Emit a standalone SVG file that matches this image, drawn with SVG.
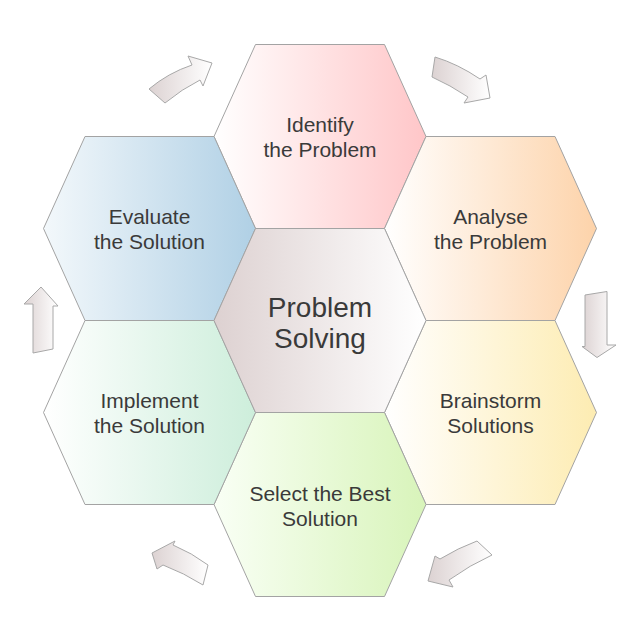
<svg xmlns="http://www.w3.org/2000/svg" width="640" height="640" viewBox="0 0 640 640">
<style>
.hex{stroke:#a3a3a3;stroke-width:1}
.arr{fill:url(#gA);stroke:#a8a8a8;stroke-width:1;stroke-linejoin:miter}
.t{font-family:"Liberation Sans",Arial,sans-serif;font-size:21px;fill:#3a3a3a;text-anchor:middle}
.tc{font-family:"Liberation Sans",Arial,sans-serif;font-size:28px;fill:#3a3a3a;text-anchor:middle}
</style>
<defs>
<linearGradient id="gA" x1="0" y1="0" x2="1" y2="0"><stop offset="0" stop-color="#dcd2d2"/><stop offset="1" stop-color="#ffffff"/></linearGradient>
<linearGradient id="gC" x1="0" y1="0" x2="1" y2="0"><stop offset="0" stop-color="#ddd1d1"/><stop offset="1" stop-color="#ffffff"/></linearGradient>
<linearGradient id="g1" x1="0" y1="0" x2="1" y2="0"><stop offset="0" stop-color="#ffffff"/><stop offset="1" stop-color="#ffc6c8"/></linearGradient>
<linearGradient id="g2" x1="0" y1="0" x2="1" y2="0"><stop offset="0" stop-color="#ffffff"/><stop offset="1" stop-color="#fdd3aa"/></linearGradient>
<linearGradient id="g3" x1="0" y1="0" x2="1" y2="0"><stop offset="0" stop-color="#ffffff"/><stop offset="1" stop-color="#fdecb2"/></linearGradient>
<linearGradient id="g4" x1="0" y1="0" x2="1" y2="0"><stop offset="0" stop-color="#f9fff5"/><stop offset="1" stop-color="#d8f4ba"/></linearGradient>
<linearGradient id="g5" x1="0" y1="0" x2="1" y2="0"><stop offset="0" stop-color="#ffffff"/><stop offset="1" stop-color="#cdeedb"/></linearGradient>
<linearGradient id="g6" x1="0" y1="0" x2="1" y2="0"><stop offset="0" stop-color="#f3f8fb"/><stop offset="1" stop-color="#b0d0e5"/></linearGradient>
</defs>
<g id="connectors">
<path class="arr" d="M149,89 Q168,73 192,65 L188,56 L212,63 L203,86 L200,80 Q182,89 165,103 Z"/>
<path class="arr" d="M435,57 Q458,64 480,79 L486,75 L490,98 L464,103 L468,97 Q450,85 432,77 Z"/>
<path class="arr" d="M585,295 L607,291.5 L607,345 L616,345 L597,357.5 L582,346.5 L585,346.5 Z"/>
<path class="arr" d="M477,541 Q458,548 440,559 L435,556 L428,581 L453,587 L449,580 Q470,565 492,555 Z"/>
<path class="arr" d="M152,553 L175,541 L173,545 Q192,553 208,565 L203,585 Q184,573 163,565 L157,569 Z"/>
<path class="arr" d="M41,287 L58,306 L53,306 L53,349 L33,353 L33,304 L24,304 Z"/>
</g>
<g id="node-identify">
<polygon class="hex" fill="url(#g1)" points="214,136.5 255.5,44.5 384.5,44.5 426,136.5 384.5,228.5 255.5,228.5"/>
<text class="t" x="320" y="131.5">Identify</text>
<text class="t" x="320" y="156.5">the Problem</text>
</g>
<g id="node-analyse">
<polygon class="hex" fill="url(#g2)" points="384.5,228.5 426,136.5 555,136.5 596.5,228.5 555,320.5 426,320.5"/>
<text class="t" x="490.5" y="223.5">Analyse</text>
<text class="t" x="490.5" y="248.5">the Problem</text>
</g>
<g id="node-brainstorm">
<polygon class="hex" fill="url(#g3)" points="384.5,412.5 426,320.5 555,320.5 596.5,412.5 555,504.5 426,504.5"/>
<text class="t" x="490.5" y="407.5">Brainstorm</text>
<text class="t" x="490.5" y="432.5">Solutions</text>
</g>
<g id="node-select">
<polygon class="hex" fill="url(#g4)" points="214,504.5 255.5,412.5 384.5,412.5 426,504.5 384.5,596.5 255.5,596.5"/>
<text class="t" x="320" y="500.5">Select the Best</text>
<text class="t" x="320" y="525.5">Solution</text>
</g>
<g id="node-implement">
<polygon class="hex" fill="url(#g5)" points="43.5,412.5 85,320.5 214,320.5 255.5,412.5 214,504.5 85,504.5"/>
<text class="t" x="149.5" y="407.5">Implement</text>
<text class="t" x="149.5" y="432.5">the Solution</text>
</g>
<g id="node-evaluate">
<polygon class="hex" fill="url(#g6)" points="43.5,228.5 85,136.5 214,136.5 255.5,228.5 214,320.5 85,320.5"/>
<text class="t" x="149.5" y="223.5">Evaluate</text>
<text class="t" x="149.5" y="248.5">the Solution</text>
</g>
<g id="node-center">
<polygon class="hex" fill="url(#gC)" points="214,320.5 255.5,228.5 384.5,228.5 426,320.5 384.5,412.5 255.5,412.5"/>
<text class="tc" x="320" y="316.5">Problem</text>
<text class="tc" x="320" y="347.5">Solving</text>
</g>
</svg>
